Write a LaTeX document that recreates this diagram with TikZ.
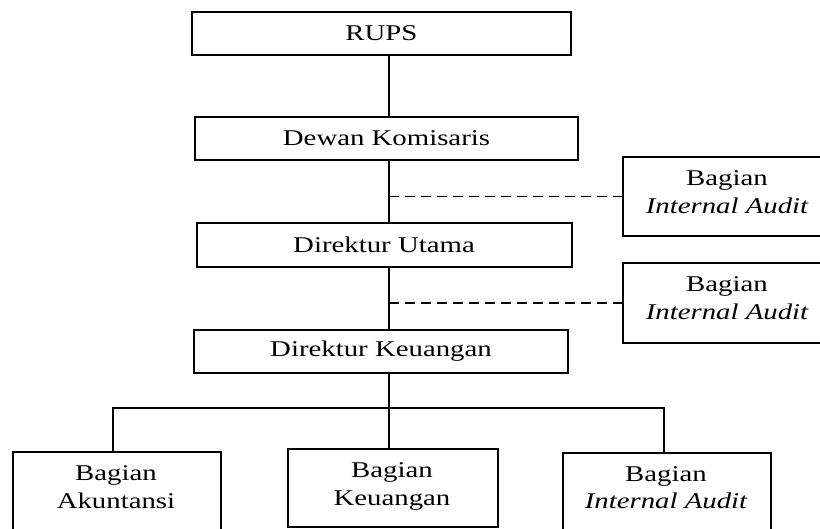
\documentclass[tikz,border=0pt]{standalone}
\usepackage{fontspec}
\setmainfont{Liberation Serif}[FakeStretch=1.28]
\begin{document}
\begin{tikzpicture}[x=1pt,y=-1pt,
  box/.style={draw, line width=2pt, inner sep=0pt, font=\fontsize{22.5}{28}\selectfont},
  lbl/.style={anchor=base, inner sep=0pt, font=\fontsize{22.5}{28}\selectfont},
  link/.style={line width=2pt},
  dashlink/.style={line width=1.7pt, dash pattern=on 9.5pt off 6.5pt}]
\useasboundingbox (0,0) rectangle (820,528);
\coordinate (sp) at (389,0);
% main column
\node[box, minimum width=379pt, minimum height=43pt] (rups) at (381.5,33.5) {RUPS};
\node[box, minimum width=383pt, minimum height=43pt] (dkom) at (386.5,138.5) {Dewan Komisaris};
\node[box, minimum width=375pt, minimum height=44pt] (dut) at (384,245) {Direktur Utama};
\node[box, minimum width=374pt, minimum height=43pt] (dkeu) at (381,351.5) {Direktur Keuangan};
% side boxes
\node[box, minimum width=210pt, minimum height=79pt, anchor=north west] (ia1) at (622,156) {};
\node[lbl] (ia1a) at (727,185) {Bagian};
\node[lbl] (ia1b) at (727,213) {\itshape Internal Audit};
\node[box, minimum width=210pt, minimum height=80pt, anchor=north west] (ia2) at (622,262) {};
\node[lbl] (ia2a) at (727,291) {Bagian};
\node[lbl] (ia2b) at (727,319) {\itshape Internal Audit};
% bottom boxes
\node[box, minimum width=208pt, minimum height=90pt, anchor=north west] (ak) at (12,451) {};
\node[lbl] (aka) at (116,480) {Bagian};
\node[lbl] (akb) at (116,508) {Akuntansi};
\node[box, minimum width=210pt, minimum height=78pt, anchor=north west] (keu) at (287,448) {};
\node[lbl] (keua) at (392,477) {Bagian};
\node[lbl] (keub) at (392,505) {Keuangan};
\node[box, minimum width=208pt, minimum height=90pt, anchor=north west] (ia3) at (562,452) {};
\node[lbl] (ia3a) at (666,481) {Bagian};
\node[lbl] (ia3b) at (666,508) {\itshape Internal Audit};
% connectors
\draw[link] (rups.south -| sp) -- (dkom.north -| sp);
\draw[link] (dkom.south -| sp) -- (dut.north -| sp);
\draw[link] (dut.south -| sp) -- (dkeu.north -| sp);
\draw[dashlink] (sp |- ia1.west) -- (ia1.west);
\draw[dashlink] (sp |- ia2.west) -- (ia2.west);
\coordinate (bus) at (389,408);
\draw[link] (dkeu.south -| sp) -- (bus);
\draw[link] (ak.north -| 113,0) -- (113,408) -- (664,408) -- (ia3.north -| 664,0);
\draw[link] (bus) -- (keu.north -| sp);
\end{tikzpicture}
\end{document}
